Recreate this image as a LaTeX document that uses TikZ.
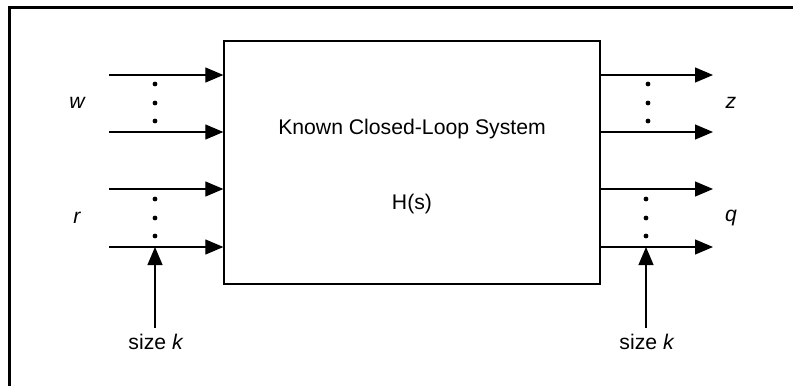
\documentclass[tikz,border=0pt]{standalone}
\usepackage{fontspec}
\setmainfont{Liberation Sans}
\usetikzlibrary{arrows.meta}
\begin{document}
\begin{tikzpicture}[x=0.5pt,y=-0.5pt,
  sig/.style={line width=0.55pt,-{Triangle[length=9pt,width=7.5pt]}},
  dotc/.style={fill=black,draw=none},
  lbl/.style={inner sep=0pt,font=\fontsize{10.6pt}{12pt}\selectfont},
  frameline/.style={line width=1.3pt}]
\useasboundingbox (0,0) rectangle (796,386);
% outer frame (top and left edges only)
\draw[frameline] (9.5,386) -- (9.5,7.5) -- (793,7.5);
% system box
\node (H) [draw,line width=0.65pt,minimum width=188pt,minimum height=121.5pt,inner sep=0pt] at (412,162.5) {};
\node (title) [lbl] at (412,129) {Known Closed-Loop System};
\node (hs) [lbl] at (412,204) {H(s)};
% input start points
\coordinate (w1) at (109,75);
\coordinate (w2) at (109,132);
\coordinate (r1) at (109,189);
\coordinate (r2) at (109,247);
\foreach \c in {w1,w2,r1,r2} \draw[sig] (\c) -- (\c -| H.west);
% output end points
\coordinate (z1) at (713,75);
\coordinate (z2) at (713,132);
\coordinate (q1) at (713,189);
\coordinate (q2) at (713,247);
\foreach \c in {z1,z2,q1,q2} \draw[sig] (\c -| H.east) -- (\c);
% dots
\foreach \y in {84,103,121,199,218,236} \fill[dotc] (155,\y) circle (1.2pt);
\foreach \y in {84,103,121} \fill[dotc] (648,\y) circle (1.2pt);
\foreach \y in {199,218,236} \fill[dotc] (646,\y) circle (1.2pt);
% signal labels
\node (lw) [lbl] at (77,103) {\itshape w};
\node (lr) [lbl] at (77,218) {\itshape r};
\node (lz) [lbl] at (731,103) {\itshape z};
\node (lq) [lbl] at (731,218) {\itshape q};
% size arrows
\coordinate (kL) at (155,328);
\coordinate (kR) at (646,328);
\draw[sig] (kL) -- (kL |- r2);
\draw[sig] (kR) -- (kR |- q2);
\node (sL) [lbl,anchor=center] at (156,342) {size \textit{k}};
\node (sR) [lbl,anchor=center] at (647,342) {size \textit{k}};
\end{tikzpicture}
\end{document}
